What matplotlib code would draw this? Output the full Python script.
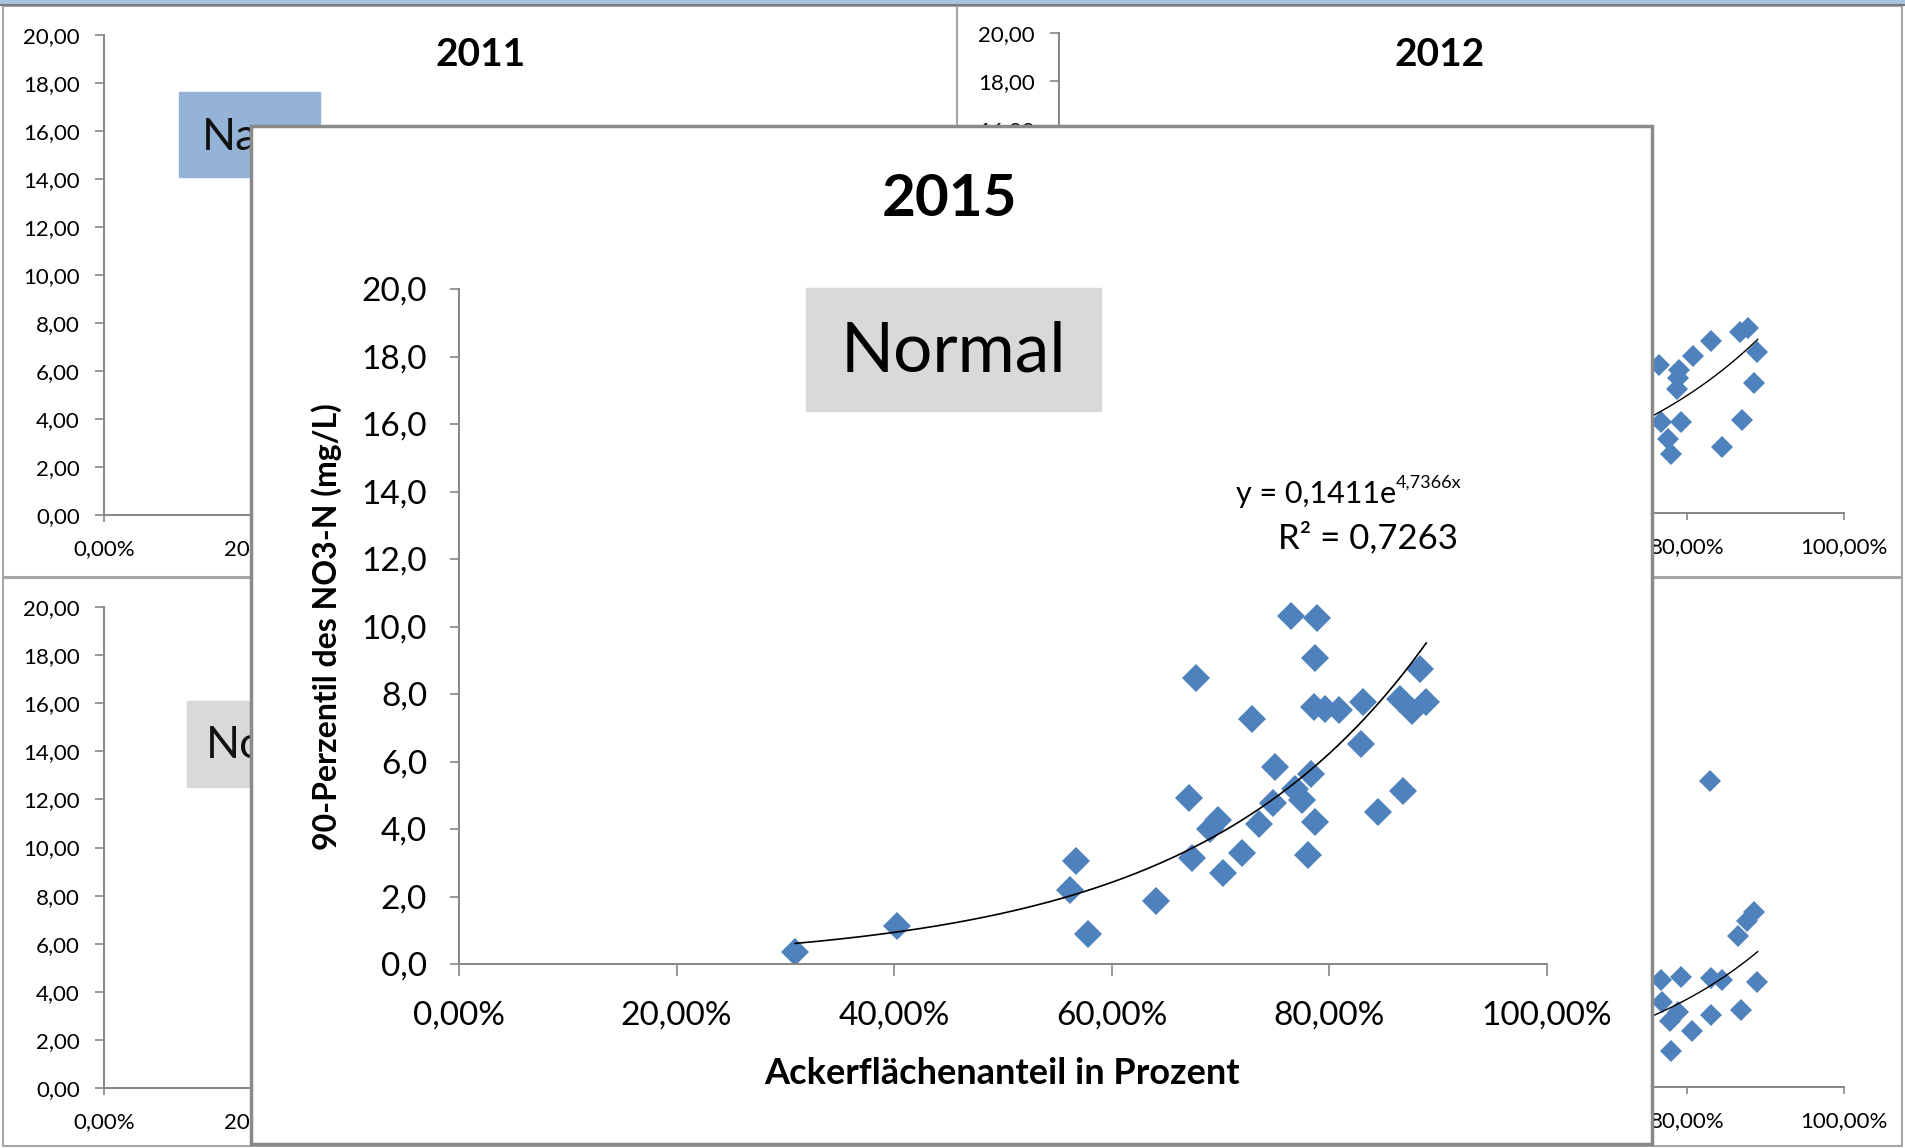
import numpy as np
import matplotlib.pyplot as plt
from matplotlib.patches import Rectangle
from matplotlib.ticker import FuncFormatter, MultipleLocator

plt.rcParams['font.family'] = ['Lato', 'DejaVu Sans']

W, H = 1905, 1148
DPI = 100

# 2015 (front chart)
x2015 = [0.309, 0.403, 0.562, 0.567, 0.578, 0.641, 0.671, 0.674, 0.677, 0.690,
         0.698, 0.702, 0.720, 0.729, 0.735, 0.748, 0.750, 0.765, 0.768, 0.775,
         0.780, 0.783, 0.786, 0.787, 0.787, 0.789, 0.796, 0.809, 0.829, 0.831,
         0.845, 0.865, 0.868, 0.876, 0.883, 0.889]
y2015 = [0.37, 1.14, 2.19, 3.06, 0.89, 1.87, 4.93, 3.14, 8.46, 4.00,
         4.27, 2.70, 3.29, 7.26, 4.16, 4.77, 5.83, 10.31, 5.20, 4.87,
         3.23, 5.64, 7.61, 9.07, 4.21, 10.25, 7.55, 7.52, 6.52, 7.76,
         4.49, 7.85, 5.13, 7.50, 8.74, 7.75]
trend2015 = (0.1411, 4.7366)

# 2012 (top right, mostly hidden)
x2012 = [0.764, 0.767, 0.776, 0.780, 0.787, 0.788, 0.790, 0.792, 0.808, 0.831,
         0.845, 0.868, 0.870, 0.878, 0.885, 0.889]
y2012 = [6.17, 3.78, 3.09, 2.47, 5.17, 5.63, 5.95, 3.78, 6.56, 7.18,
         2.77, 7.56, 3.86, 7.72, 5.41, 6.71]
trend2012 = (0.152, 4.34)

# bottom right panel (mostly hidden)
x_br = [0.767, 0.768, 0.778, 0.780, 0.788, 0.792, 0.806, 0.829, 0.831, 0.831,
        0.845, 0.865, 0.869, 0.876, 0.885, 0.889]
y_br = [4.45, 3.53, 2.75, 1.52, 3.14, 4.60, 2.33, 12.77, 4.53, 2.99,
        4.45, 6.29, 3.21, 6.91, 7.29, 4.37]
trend_br = (0.078, 4.81)

blue = '#4F81BD'
axcol = '#868686'

fig = plt.figure(figsize=(W / DPI, H / DPI), dpi=DPI)


def px_axes(x0, ytop, x1, ybot, z):
    return fig.add_axes([x0 / W, 1 - ybot / H, (x1 - x0) / W, (ybot - ytop) / H], zorder=z)


def pixel_canvas(z):
    c = fig.add_axes([0, 0, 1, 1], zorder=z)
    c.set_xlim(0, W)
    c.set_ylim(H, 0)
    c.axis('off')
    c.patch.set_visible(False)
    return c


def style_axes(ax, yfmt, fs, ylen, xlen, ypad, xpad, xshow=None, yshow=None):
    # xshow / yshow: tick values whose labels are not covered by the front chart
    ax.set_xlim(0, 1)
    ax.set_ylim(0, 20)
    ax.xaxis.set_major_locator(MultipleLocator(0.2))
    ax.yaxis.set_major_locator(MultipleLocator(2))

    def xf(v, _):
        if xshow is not None and not any(abs(v - s) < 1e-6 for s in xshow):
            return ''
        return f"{v * 100:.2f}%".replace('.', ',')

    def yf(v, _):
        if yshow is not None and not any(abs(v - s) < 1e-6 for s in yshow):
            return ''
        return yfmt.format(v).replace('.', ',')

    ax.xaxis.set_major_formatter(FuncFormatter(xf))
    ax.yaxis.set_major_formatter(FuncFormatter(yf))
    for s in ['top', 'right']:
        ax.spines[s].set_visible(False)
    for s in ['left', 'bottom']:
        ax.spines[s].set_color(axcol)
        ax.spines[s].set_linewidth(1.4)
    ax.tick_params(axis='y', direction='out', length=ylen, width=1.2, color=axcol,
                   labelsize=fs, pad=ypad)
    ax.tick_params(axis='x', direction='out', length=xlen, width=1.2, color=axcol,
                   labelsize=fs, pad=xpad)
    ax.patch.set_visible(False)


# background: window strip, panel frames, titles, label boxes
bg = pixel_canvas(0)
bg.add_patch(Rectangle((0, 0), W, 3, color='#a9c3e0'))
bg.plot([0, W], [4.5, 4.5], color='#7a7a7a', lw=1.5)
for x0, y0, x1, y1 in [(3, 6, 957, 577), (957, 6, 1902, 577),
                       (3, 578, 957, 1146), (957, 578, 1902, 1146)]:
    bg.add_patch(Rectangle((x0, y0), x1 - x0, y1 - y0, fill=False, ec='#a6a6a6', lw=1.5))
bg.text(481, 55, "2011", ha='center', va='center', fontsize=28, fontweight='bold')
bg.text(1440, 55, "2012", ha='center', va='center', fontsize=28, fontweight='bold')
bg.add_patch(Rectangle((179, 92), 141, 85, color='#95b3d7'))
bg.text(202, 138, "Na", ha='left', va='center', fontsize=32, color='#111111')
bg.add_patch(Rectangle((187, 701), 140, 86, color='#d9d9d9'))
bg.text(206, 745, "No", ha='left', va='center', fontsize=32, color='#111111')

all_y = list(range(0, 21, 2))
bg_axes = [px_axes(104, 35, 889, 515, 1), px_axes(1059, 33, 1844, 513, 1),
           px_axes(104, 607, 889, 1088, 1), px_axes(1059, 607, 1844, 1087, 1)]
bg_show = [([0, 0.2], all_y), ([0.8, 1.0], [16, 18, 20]),
           ([0, 0.2], all_y), ([0.8, 1.0], [])]
for ax, (xs_, ys_) in zip(bg_axes, bg_show):
    style_axes(ax, "{:.2f}", 16, 6.5, 5, 11, 12, xshow=xs_, yshow=ys_)

xs = np.linspace(0.3, 0.89, 100)
for ax, xd, yd, (a, b) in [(bg_axes[1], x2012, y2012, trend2012),
                           (bg_axes[3], x_br, y_br, trend_br)]:
    ax.plot(xd, yd, 'D', color=blue, markersize=11, markeredgewidth=0)
    ax.plot(xs, a * np.exp(b * xs), color='black', lw=1)

# front chart 2015
fr = pixel_canvas(2)
fr.add_patch(Rectangle((251, 126), 1652 - 251, 1144 - 126, fc='white', ec='#8a8a8a', lw=2.5))
fr.text(950, 200, "2015", ha='center', va='center', fontsize=42, fontweight='bold')
fr.add_patch(Rectangle((806, 288), 295, 123, color='#d9d9d9'))
fr.text(953, 352, "Normal", ha='center', va='center', fontsize=50)
fr.text(327, 627, "90-Perzentil des NO3-N (mg/L)", ha='center', va='center',
        rotation=90, fontsize=23, fontweight='bold')
fr.text(1002, 1073, "Ackerflächenanteil in Prozent", ha='center', va='center',
        fontsize=26, fontweight='bold')
eq = fr.text(1236, 494, "y = 0,1411e", ha='left', va='center', fontsize=22)
fr.annotate("4,7366x", xy=(1.0, 0.62), xycoords=eq, ha='left', va='bottom', fontsize=13)
fr.text(1368, 538, "R² = 0,7263", ha='center', va='center', fontsize=25)

ax = px_axes(459, 289, 1547, 964, 3)
style_axes(ax, "{:.1f}", 24, 6.5, 8.5, 16.5, 18)
ax.plot(x2015, y2015, 'D', color=blue, markersize=14, markeredgewidth=0)
a, b = trend2015
xt = np.linspace(min(x2015), max(x2015), 200)
ax.plot(xt, a * np.exp(b * xt), color='black', lw=1.2)

fig.savefig('out.png', dpi=DPI)
